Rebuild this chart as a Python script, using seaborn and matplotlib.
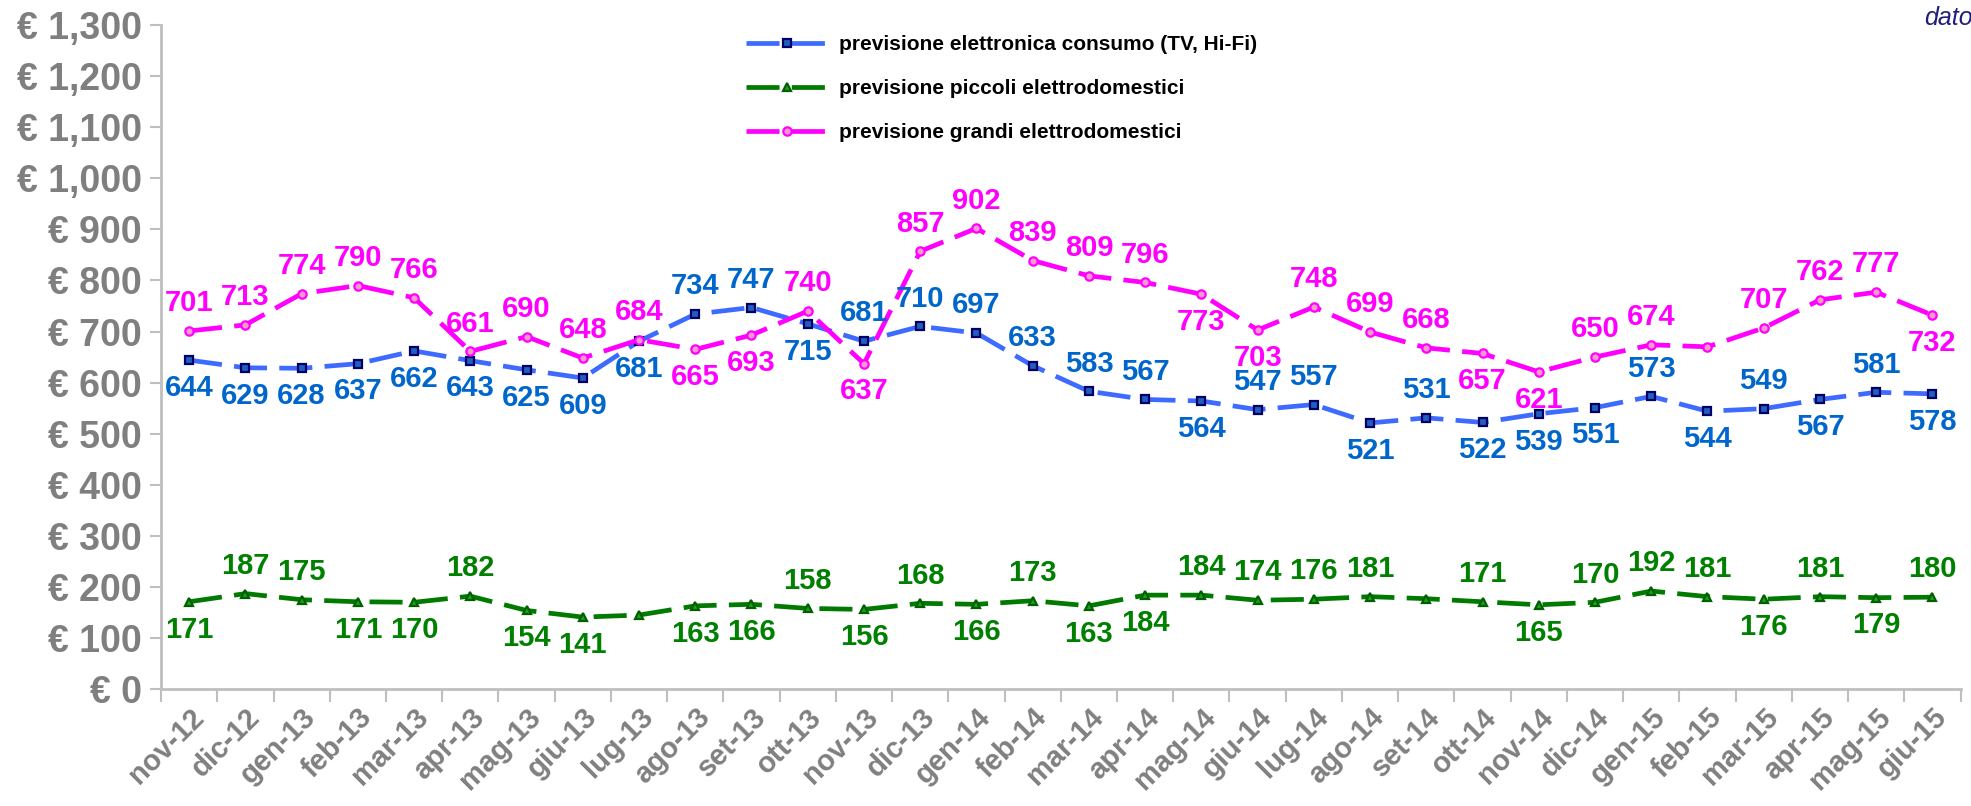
import numpy as np
import pandas as pd
import matplotlib
matplotlib.use("Agg")
import matplotlib.pyplot as plt
import seaborn as sns
from matplotlib.ticker import FuncFormatter, FixedLocator

months = ["nov-12", "dic-12", "gen-13", "feb-13", "mar-13", "apr-13", "mag-13", "giu-13",
          "lug-13", "ago-13", "set-13", "ott-13", "nov-13", "dic-13", "gen-14", "feb-14",
          "mar-14", "apr-14", "mag-14", "giu-14", "lug-14", "ago-14", "set-14", "ott-14",
          "nov-14", "dic-14", "gen-15", "feb-15", "mar-15", "apr-15", "mag-15", "giu-15"]

elettronica = [644, 629, 628, 637, 662, 643, 625, 609, 681, 734, 747, 715, 681, 710, 697, 633,
               583, 567, 564, 547, 557, 521, 531, 522, 539, 551, 573, 544, 549, 567, 581, 578]
piccoli = [171, 187, 175, 171, 170, 182, 154, 141, 145, 163, 166, 158, 156, 168, 166, 173,
           163, 184, 184, 174, 176, 181, 177, 171, 165, 170, 192, 181, 176, 181, 179, 180]
grandi = [701, 713, 774, 790, 766, 661, 690, 648, 684, 665, 693, 740, 637, 857, 902, 839,
          809, 796, 773, 703, 748, 699, 668, 657, 621, 650, 674, 670, 707, 762, 777, 732]

# where each value label sits: 1 above, -1 below, 0 no label
pos_elettronica = [-1, -1, -1, -1, -1, -1, -1, -1, -1, 1, 1, -1, 1, 1, 1, 1,
                   1, 1, -1, 1, 1, -1, 1, -1, -1, -1, 1, -1, 1, -1, 1, -1]
pos_piccoli = [-1, 1, 1, -1, -1, 1, -1, -1, 0, -1, -1, 1, -1, 1, -1, 1,
               -1, -1, 1, 1, 1, 1, 0, 1, -1, 1, 1, 1, -1, 1, -1, 1]
pos_grandi = [1, 1, 1, 1, 1, 1, 1, 1, 1, -1, -1, 1, -1, 1, 1, 1,
              1, 1, -1, -1, 1, 1, 1, -1, -1, 1, 1, 0, 1, 1, 1, -1]

names = ["previsione elettronica consumo (TV, Hi-Fi)",
         "previsione piccoli elettrodomestici",
         "previsione grandi elettrodomestici"]

sns.set_style("white")
plt.rcParams["font.family"] = ["Liberation Sans", "DejaVu Sans"]

x = np.arange(len(months))
fig = plt.figure(figsize=(19.71, 8.06), dpi=100)
ax = fig.add_axes([0.0817, 0.145, 0.913, 0.824])

series = [
    (names[0], elettronica, pos_elettronica, "#3D6BFF", "#0066CC", "s", "#1F5FBF", "#000066"),
    (names[1], piccoli, pos_piccoli, "#007A00", "#008000", "^", "#20A020", "#006000"),
    (names[2], grandi, pos_grandi, "#FF00FF", "#FF00FF", "o", "#FF99CC", "#FF00FF"),
]

for name, vals, pos, lc, tc, mk, mfc, mec in series:
    sns.lineplot(x=x, y=vals, ax=ax, color=lc, linewidth=3.4, linestyle=(0, (7, 2.6)),
                 marker=mk, markersize=6, markerfacecolor=mfc, markeredgecolor=mec,
                 markeredgewidth=1.6, label=name)
    for i, (v, p) in enumerate(zip(vals, pos)):
        if p == 0:
            continue
        ax.annotate(str(v), (x[i], v), xytext=(0, 20 * p), textcoords="offset points",
                    ha="center", va="center", color=tc, fontsize=21, fontweight="bold")

ax.set_xlim(-0.5, len(months) - 0.5)
ax.set_ylim(0, 1300)
ax.set_xlabel("")
ax.set_ylabel("")

ax.set_yticks(np.arange(0, 1301, 100))
ax.yaxis.set_major_formatter(FuncFormatter(lambda v, _: "€ {:,}".format(int(v))))
ax.set_xticks(x)
ax.set_xticklabels(months)
ax.xaxis.set_minor_locator(FixedLocator(np.arange(-0.5, len(months), 1)))

for lab in ax.get_yticklabels():
    lab.set_fontsize(27)
    lab.set_fontweight("bold")
    lab.set_color("#7F7F7F")
for lab in ax.get_xticklabels():
    lab.set_fontsize(21)
    lab.set_fontweight("bold")
    lab.set_color("#808080")
    lab.set_rotation(45)
    lab.set_ha("right")
    lab.set_rotation_mode("anchor")

ax.tick_params(axis="y", which="major", direction="out", length=8, width=1.5,
               color="#BFBFBF", left=True, pad=6)
ax.tick_params(axis="x", which="major", length=0, pad=10)
ax.tick_params(axis="x", which="minor", direction="out", length=9, width=1.5,
               color="#BFBFBF", bottom=True)

sns.despine(ax=ax, top=True, right=True)
for side in ["left", "bottom"]:
    ax.spines[side].set_color("#BFBFBF")
    ax.spines[side].set_linewidth(2)

leg = ax.legend(loc="upper left", bbox_to_anchor=(0.369, 0.98), bbox_transform=fig.transFigure,
                frameon=False, handlelength=3.95, labelspacing=1.2,
                handletextpad=0.5, prop={"weight": "bold", "size": 15})
for t in leg.get_texts():
    t.set_color("black")

fig.text(0.976, 0.978, "dato", fontsize=18, style="italic", color="#1F1F7A",
         ha="left", va="center")

fig.savefig("out.png", dpi=100)
